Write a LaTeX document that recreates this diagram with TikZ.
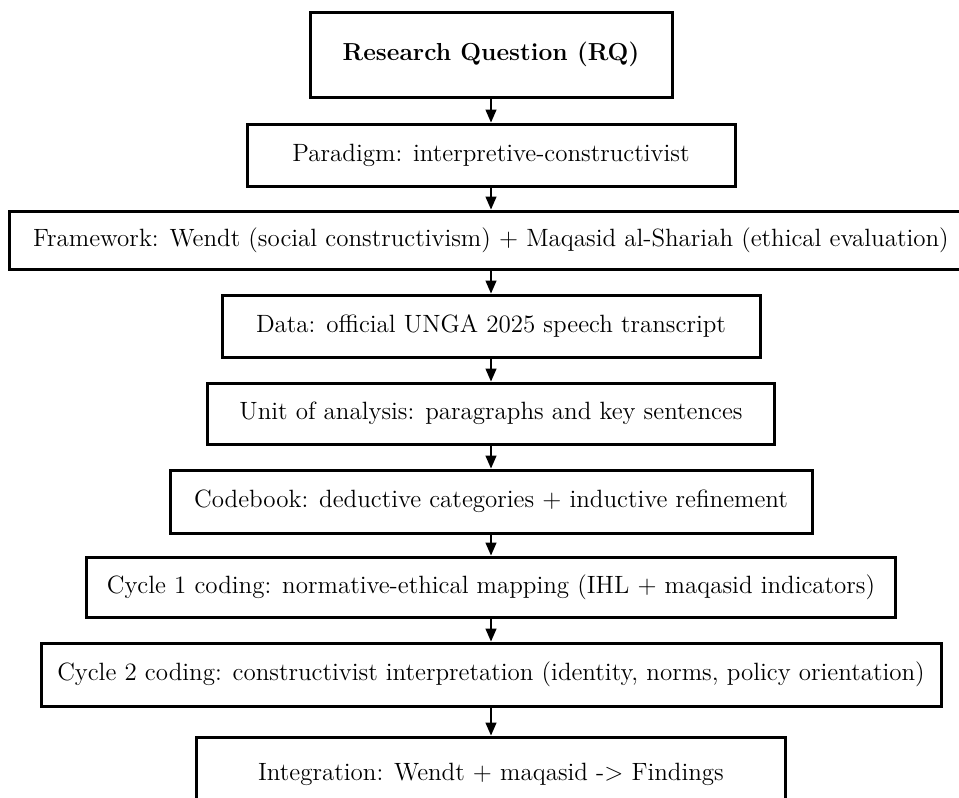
\documentclass[tikz,border=0pt]{standalone}
\usetikzlibrary{arrows.meta}
\begin{document}
\begin{tikzpicture}[x=0.5pt,y=-0.5pt,
  box/.style={draw=black, line width=1.5pt, fill=white, inner sep=0pt, align=center,
    font=\fontsize{12.5}{15}\selectfont},
  arr/.style={-{Triangle[length=6.5pt,width=5.5pt]}, line width=0.7pt}]
\useasboundingbox[fill=white] (0,0) rectangle (959,798);
\node[box, minimum width=181pt, minimum height=42.5pt, font=\fontsize{12.3}{15}\selectfont\bfseries] (rq) at (491,54.5) {Research Question (RQ)};
\node[box, minimum width=244pt, minimum height=31pt] (par) at (491,155) {Paradigm: interpretive-constructivist};
\node[box, minimum width=482pt, minimum height=29pt] (fw) at (491,240) {Framework: Wendt (social constructivism) + Maqasid al-Shariah (ethical evaluation)};
\node[box, minimum width=269pt, minimum height=31pt] (data) at (491,326) {Data: official UNGA 2025 speech transcript};
\node[box, minimum width=283.5pt, minimum height=30.5pt] (unit) at (491,413.5) {Unit of analysis: paragraphs and key sentences};
\node[box, minimum width=321pt, minimum height=31.5pt] (code) at (491,501.5) {Codebook: deductive categories + inductive refinement};
\node[box, inner xsep=10pt, minimum height=30pt] (c1) at (491,587) {Cycle 1 coding: normative-ethical mapping (IHL + maqasid indicators)};
\node[box, minimum width=450pt, minimum height=31.5pt] (c2) at (491,674.5) {Cycle 2 coding: constructivist interpretation (identity, norms, policy orientation)};
\node[box, minimum width=294.5pt, minimum height=37.5pt] (integ) at (491,774.5) {Integration: Wendt + maqasid -> Findings};
\draw[arr] (rq) -- (par);
\draw[arr] (par) -- (fw);
\draw[arr] (fw) -- (data);
\draw[arr] (data) -- (unit);
\draw[arr] (unit) -- (code);
\draw[arr] (code) -- (c1);
\draw[arr] (c1) -- (c2);
\draw[arr] (c2) -- (integ);
\end{tikzpicture}
\end{document}
